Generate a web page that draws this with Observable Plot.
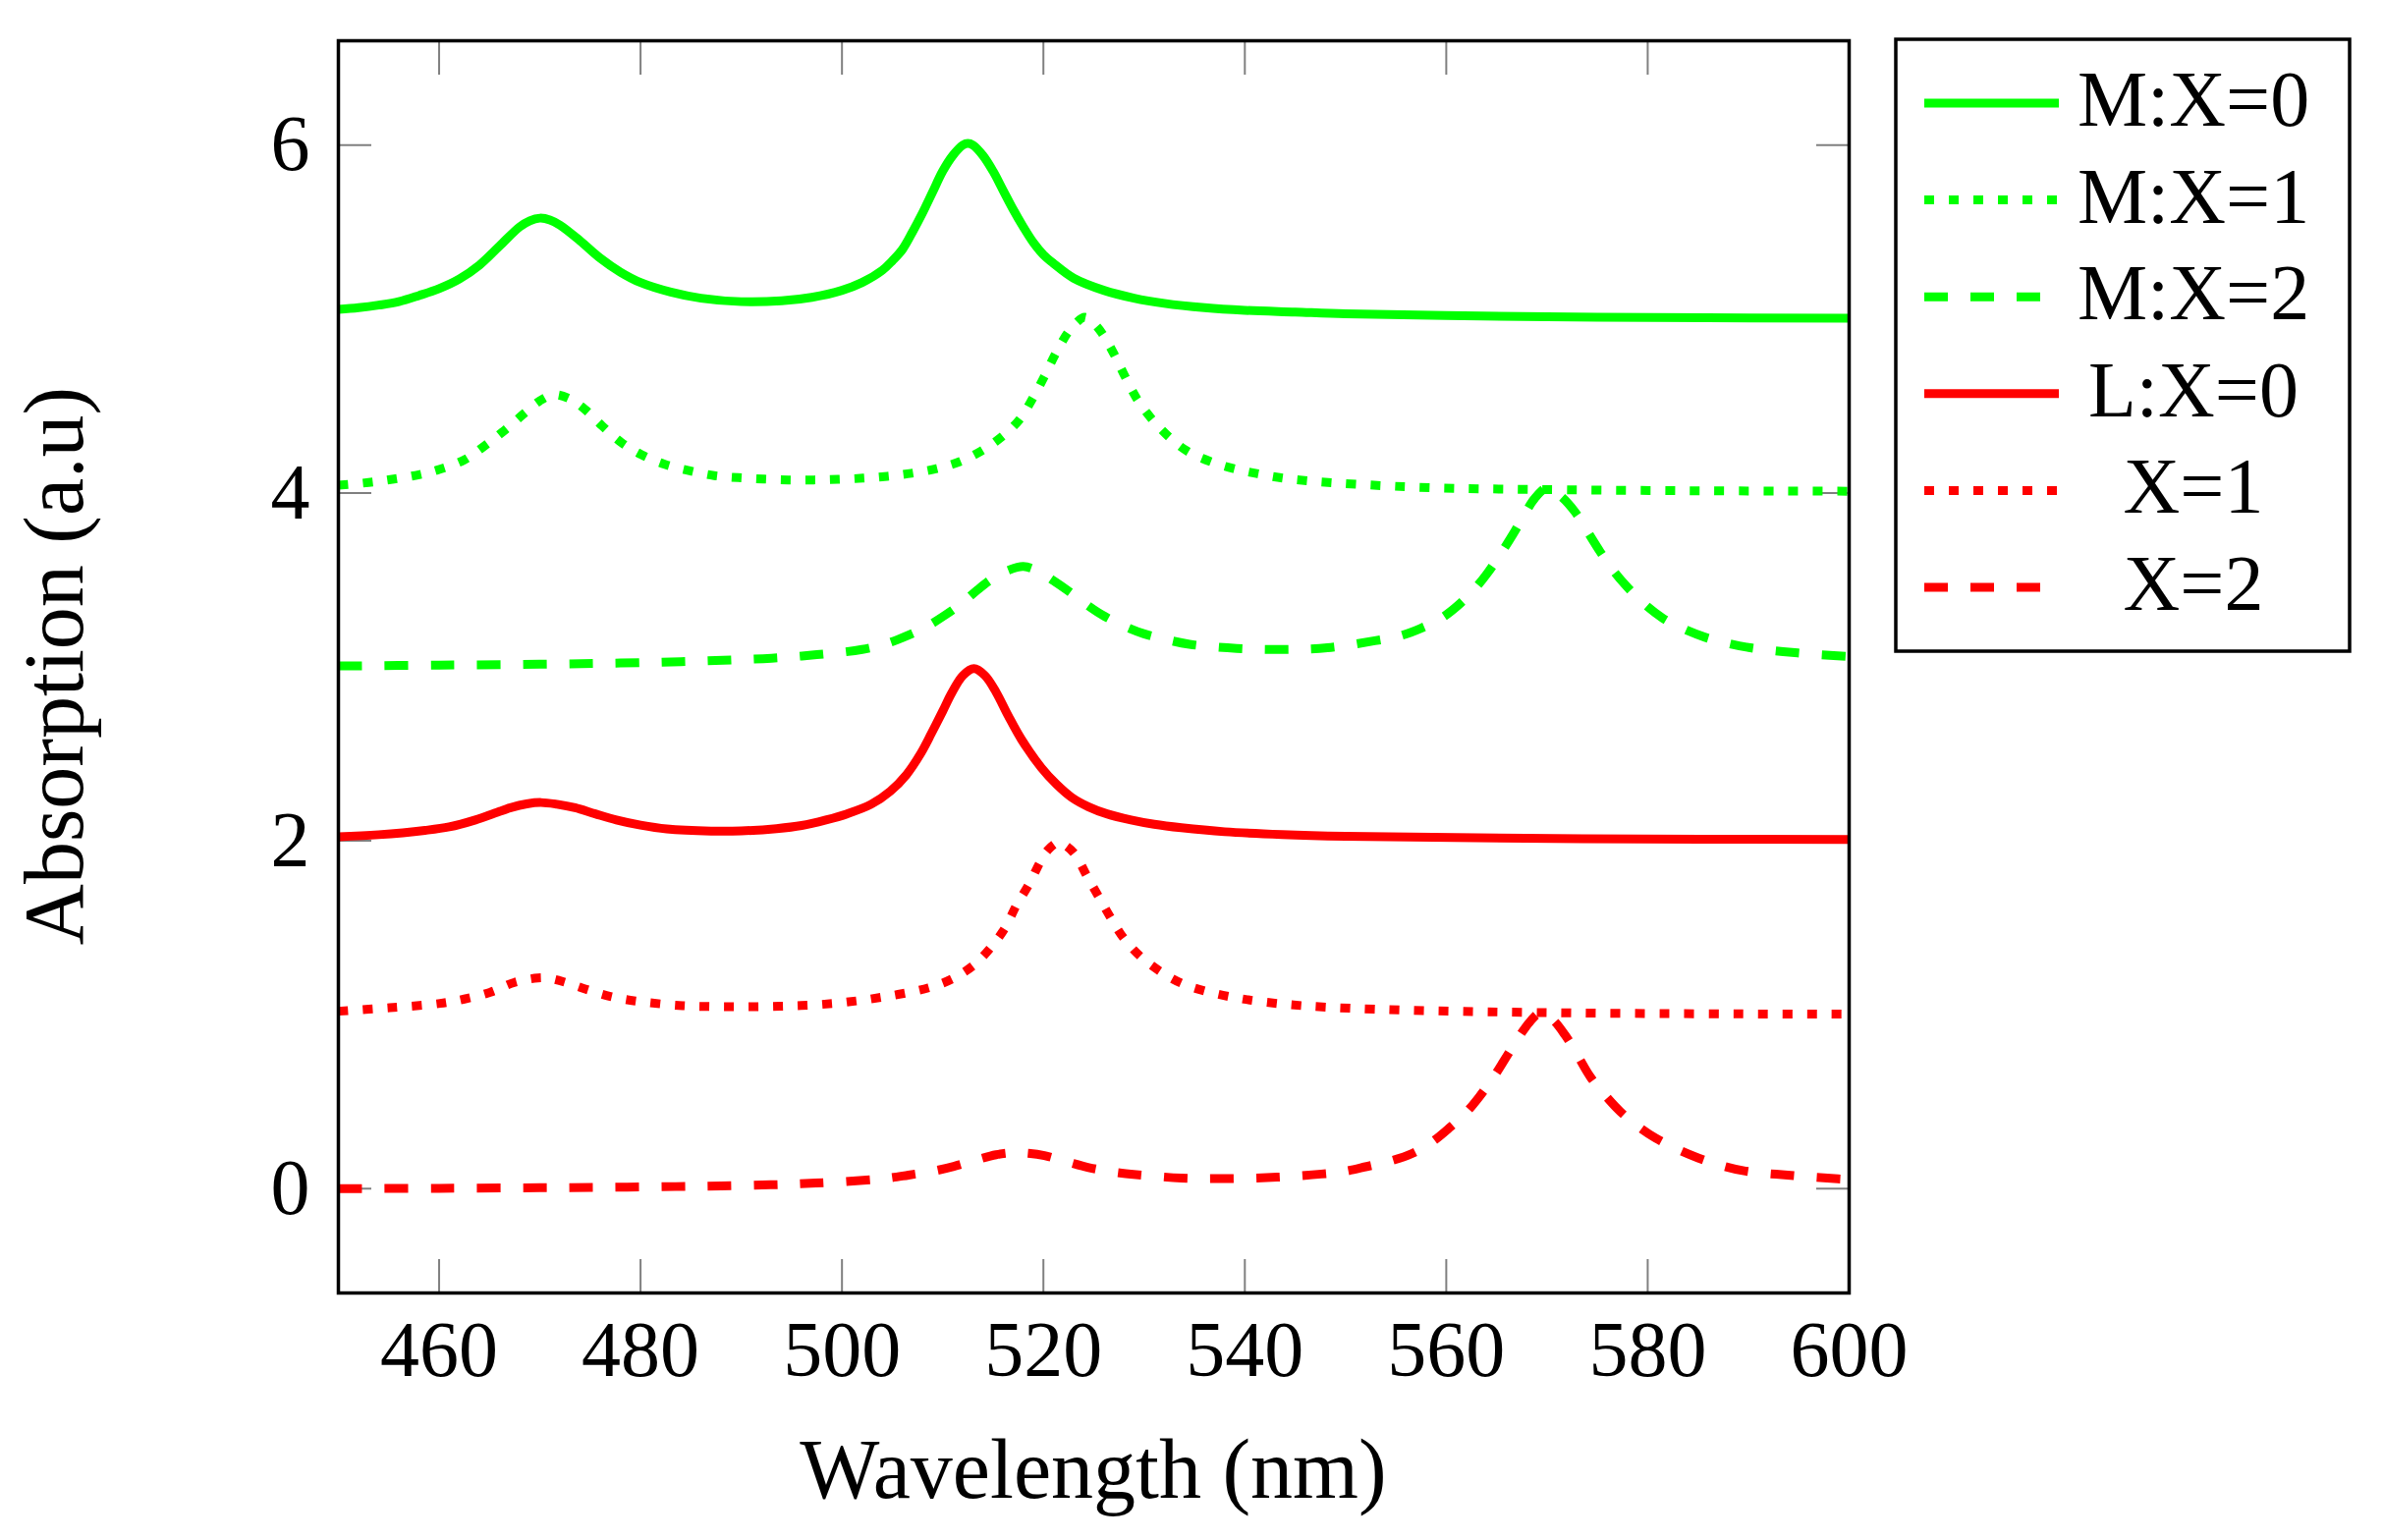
<!DOCTYPE html>
<html>
<head>
<meta charset="utf-8">
<script src="https://cdn.jsdelivr.net/npm/d3@7"></script>
<script src="https://cdn.jsdelivr.net/npm/@observablehq/plot@0.6"></script>
<style>
  html, body { margin: 0; padding: 0; background: #ffffff; }
  svg { display: block; }
</style>
</head>
<body>
<div id="chart"></div>
<script>
// ---- Data ----
const xTicks = [460, 480, 500, 520, 540, 560, 580, 600];
const yTicks = [0, 2, 4, 6];
const seriesLabels = ["M:X=0", "M:X=1", "M:X=2", "L:X=0", "X=1", "X=2"];

// M:X=0  (green, solid)
const mx0 = [[450,5.055],[452,5.065],[454,5.08],[456,5.10],[458,5.135],[460,5.175],[462,5.23],[464,5.31],[466,5.42],[468,5.53],[469,5.565],[470,5.58],[471,5.57],[472,5.54],[474,5.45],[476,5.35],[478,5.27],[480,5.21],[483,5.155],[486,5.12],[490,5.10],[494,5.105],[497,5.125],[500,5.165],[502,5.21],[504,5.28],[505,5.335],[506,5.40],[507,5.50],[508,5.61],[509,5.73],[510,5.85],[511,5.94],[512,6.00],[512.5,6.01],[513,6.00],[514,5.94],[515,5.85],[516,5.74],[517,5.63],[518,5.53],[519,5.44],[520,5.37],[521,5.32],[523,5.235],[526,5.165],[529,5.12],[532,5.09],[536,5.065],[540,5.05],[545,5.04],[550,5.03],[560,5.02],[575,5.01],[600,5.005]];

// M:X=1  (green, dotted)
const mx1 = [[450,4.045],[453,4.06],[455.5,4.08],[458,4.105],[460,4.135],[462.5,4.19],[464.5,4.27],[466.5,4.36],[468.5,4.46],[470,4.53],[471.4,4.565],[473,4.54],[474.5,4.48],[476.2,4.385],[478.1,4.29],[480.1,4.22],[482.4,4.165],[484.9,4.127],[487.3,4.10],[489.7,4.088],[492.2,4.08],[494.7,4.075],[497.2,4.075],[499.6,4.078],[502.1,4.085],[504.5,4.096],[506.9,4.113],[509.4,4.14],[511.7,4.18],[513.8,4.24],[515.8,4.32],[517.6,4.42],[518.9,4.54],[520.1,4.67],[521.2,4.80],[522.4,4.92],[523.2,4.975],[524.1,5.01],[525,4.975],[525.8,4.92],[527,4.80],[528.1,4.67],[529.3,4.54],[530.7,4.43],[532.5,4.32],[534.3,4.24],[536.6,4.18],[538.9,4.14],[541.3,4.11],[543.8,4.085],[546.2,4.07],[551.1,4.05],[558.6,4.03],[568.6,4.02],[583.5,4.013],[600,4.01]];

// M:X=2  (green, dashed)
const mx2 = [[450,3.005],[460,3.01],[470,3.015],[478,3.022],[484,3.03],[489,3.04],[493,3.05],[497.5,3.07],[502,3.10],[504.5,3.135],[506.5,3.18],[508.5,3.235],[510.3,3.30],[512,3.37],[513.5,3.445],[515,3.51],[516.5,3.555],[518,3.577],[519.5,3.55],[521,3.495],[522.5,3.435],[524,3.37],[525.8,3.30],[528,3.235],[530,3.19],[532,3.16],[534.5,3.13],[539.2,3.106],[543.7,3.10],[548.2,3.11],[552.9,3.15],[555.5,3.18],[557.4,3.22],[559.5,3.28],[561.1,3.35],[562.7,3.44],[564.1,3.54],[565.4,3.65],[566.6,3.76],[567.8,3.88],[568.8,3.97],[570.05,4.03],[571.4,3.98],[572.8,3.89],[574,3.78],[575.3,3.66],[576.5,3.56],[577.8,3.47],[579.5,3.37],[581.5,3.28],[583.5,3.22],[585.7,3.17],[588,3.135],[590.2,3.11],[594.9,3.08],[600,3.06]];

// L:X=0  (red, solid)
const lx0 = [[450,2.023],[454,2.035],[458.6,2.06],[461,2.08],[463.6,2.12],[465.5,2.158],[467.1,2.19],[468.7,2.212],[470.1,2.22],[471.7,2.21],[473.5,2.19],[475.5,2.155],[477.6,2.12],[480,2.09],[482.6,2.068],[487,2.056],[490,2.057],[493.5,2.07],[496,2.088],[498.4,2.12],[500.5,2.155],[502.9,2.21],[504.8,2.285],[506.4,2.38],[507.8,2.50],[508.9,2.62],[510,2.745],[510.9,2.85],[512,2.95],[513.1,2.99],[514.2,2.95],[515.3,2.855],[516.5,2.72],[517.8,2.585],[519.8,2.42],[521.3,2.325],[522.8,2.25],[524.5,2.195],[526.3,2.155],[528.7,2.12],[531,2.095],[533.7,2.075],[538,2.052],[543.7,2.036],[550,2.026],[558.6,2.02],[573.5,2.012],[600,2.008]];

// X=1  (red, dotted)
const lx1 = [[450,1.02],[455.1,1.04],[460.1,1.065],[462.5,1.09],[465.1,1.13],[467.5,1.186],[469.8,1.211],[470.8,1.21],[472.3,1.19],[474.5,1.148],[477,1.105],[479.5,1.079],[484.2,1.052],[489.2,1.046],[494.2,1.049],[499.2,1.065],[503.9,1.10],[508.6,1.155],[510.9,1.205],[513.1,1.286],[514.8,1.388],[516.2,1.50],[517.3,1.627],[518.6,1.753],[519.7,1.88],[520.5,1.95],[521.5,1.99],[522.4,1.965],[523.2,1.917],[524.3,1.80],[525.5,1.677],[526.75,1.551],[528,1.438],[529.6,1.337],[531.6,1.249],[533.7,1.181],[536.1,1.135],[538.4,1.105],[541,1.08],[545.7,1.052],[555.6,1.027],[573.5,1.01],[600,1.003]];

// X=2  (red, dashed)
const lx2 = [[450,0.0],[460,0.002],[470,0.005],[477,0.008],[483.5,0.012],[488,0.016],[492.9,0.022],[497.4,0.032],[502.1,0.048],[504.5,0.06],[506.6,0.078],[509,0.10],[511.1,0.128],[513.3,0.165],[515.3,0.195],[517,0.207],[518.5,0.203],[520.1,0.19],[522.3,0.155],[524.5,0.121],[526.8,0.097],[529.2,0.081],[533.7,0.061],[538.4,0.058],[543.2,0.066],[547.6,0.084],[550,0.10],[552.1,0.127],[554.5,0.16],[556.6,0.202],[558.5,0.265],[560.3,0.349],[562,0.44],[563.3,0.53],[564.8,0.65],[566.1,0.77],[567.3,0.88],[568.3,0.959],[569.3,1.01],[570.5,0.975],[571.8,0.883],[573,0.77],[574.3,0.643],[575.8,0.535],[577.3,0.442],[579,0.36],[580.8,0.29],[583,0.225],[585,0.177],[587.5,0.13],[589.7,0.101],[594.2,0.076],[598.9,0.056],[600,0.053]];

// ---- Styles ----
const GREEN = "#00ff00";
const RED = "#ff0000";
const DOTTED = "10,15";
const DASHED = "24,23";
const LINE_W = 9;
const FONT = "'Liberation Serif', 'DejaVu Serif', serif";

const seriesDefs = [
  {label: seriesLabels[0], data: mx0, color: GREEN, dash: null},
  {label: seriesLabels[1], data: mx1, color: GREEN, dash: DOTTED},
  {label: seriesLabels[2], data: mx2, color: GREEN, dash: DASHED},
  {label: seriesLabels[3], data: lx0, color: RED, dash: null},
  {label: seriesLabels[4], data: lx1, color: RED, dash: DOTTED},
  {label: seriesLabels[5], data: lx2, color: RED, dash: DASHED}
];

const lineMarks = seriesDefs.map(s =>
  Plot.line(s.data.map(([wl, a]) => ({wl, a})), {
    x: "wl", y: "a",
    stroke: s.color,
    strokeWidth: LINE_W,
    strokeDasharray: s.dash ?? undefined,
    strokeLinecap: "butt",
    strokeLinejoin: "round",
    curve: "catmull-rom"
  })
);

const tickStyle = {stroke: "#808080", strokeWidth: 2, text: null, label: null, tickSize: -34};

const svg = Plot.plot({
  width: 2426,
  height: 1568,
  marginLeft: 344,
  marginRight: 544,
  marginTop: 41,
  marginBottom: 252,
  style: {fontFamily: FONT, fontSize: "80px", color: "black", background: "white", overflow: "visible"},
  x: {domain: [450, 600]},
  y: {domain: [-0.6, 6.6]},
  marks: [
    Plot.axisX({ticks: xTicks, anchor: "bottom", tickSize: 0, tickPadding: 28, label: null, fontSize: 80, tickFormat: d => String(d)}),
    Plot.axisX({ticks: xTicks, anchor: "bottom", ...tickStyle}),
    Plot.axisX({ticks: xTicks, anchor: "top", ...tickStyle}),
    Plot.axisY({ticks: yTicks, anchor: "left", tickSize: 0, tickPadding: 29, label: null, fontSize: 80, tickFormat: d => String(d)}),
    Plot.axisY({ticks: yTicks, anchor: "left", ...tickStyle}),
    Plot.axisY({ticks: yTicks, anchor: "right", ...tickStyle}),
    ...lineMarks,
    Plot.frame({stroke: "black", strokeWidth: 3.5})
  ]
});

document.getElementById("chart").appendChild(svg);

const root = d3.select(svg);

// Axis titles
root.append("text")
  .attr("x", 1113).attr("y", 1525)
  .attr("text-anchor", "middle")
  .attr("font-family", FONT).attr("font-size", 86)
  .attr("fill", "black")
  .text("Wavelength (nm)");

root.append("text")
  .attr("transform", "translate(84,678) rotate(-90)")
  .attr("text-anchor", "middle")
  .attr("font-family", FONT).attr("font-size", 86)
  .attr("fill", "black")
  .text("Absorption (a.u)");

// Legend
const lg = root.append("g");
lg.append("rect")
  .attr("x", 1930).attr("y", 40).attr("width", 462).attr("height", 623)
  .attr("fill", "white").attr("stroke", "black").attr("stroke-width", 3.5);
seriesDefs.forEach((s, i) => {
  const cy = 105 + i * 98.6;
  lg.append("line")
    .attr("x1", 1959).attr("x2", 2096).attr("y1", cy).attr("y2", cy)
    .attr("stroke", s.color).attr("stroke-width", LINE_W)
    .attr("stroke-dasharray", s.dash ?? null);
  lg.append("text")
    .attr("x", 2233).attr("y", cy + 23)
    .attr("text-anchor", "middle")
    .attr("font-family", FONT).attr("font-size", 80)
    .attr("fill", "black")
    .text(s.label);
});
</script>
</body>
</html>
